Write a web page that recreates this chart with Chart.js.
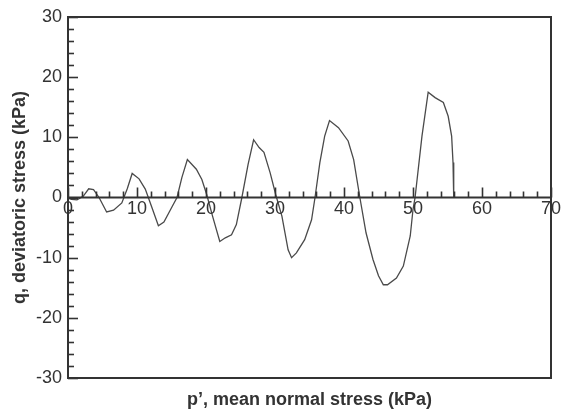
<!DOCTYPE html>
<html>
<head>
<meta charset="utf-8">
<script src="https://cdn.jsdelivr.net/npm/chart.js@4"></script>
<style>
  html, body { margin: 0; padding: 0; background: #fff; }
  #wrap { width: 565px; height: 414px; }
</style>
</head>
<body>
<div id="wrap"><canvas id="c" width="565" height="414"></canvas></div>
<script>
// p' (kPa)
const pValues = [0, 0.5, 1.3, 2.2, 3.0, 3.7, 4.5, 5.6, 6.6, 7.8, 8.6, 9.3, 10.3, 11.2, 12.2, 13.1, 13.9, 15.1, 15.8, 16.5, 17.3, 18.6, 19.4, 20.1, 21.0, 22.0, 22.8, 23.7, 24.4, 25.2, 26.1, 26.9, 27.7, 28.4, 29.3, 30.1, 31.0, 31.9, 32.4, 33.1, 34.3, 35.3, 35.8, 36.5, 37.2, 37.9, 39.2, 40.6, 41.4, 42.3, 43.2, 44.2, 45.0, 45.7, 46.3, 47.6, 48.6, 49.6, 50.0, 50.3, 51.3, 52.2, 53.2, 54.4, 55.1, 55.6, 55.8, 55.9];
// q (kPa)
const qValues = [0, -0.3, -0.4, 0.2, 1.45, 1.3, 0, -2.4, -2.1, -0.9, 1.5, 4.0, 3.1, 1.4, -1.8, -4.7, -4.1, -1.5, 0, 3.3, 6.3, 4.7, 3.0, 0.5, -3.3, -7.3, -6.7, -6.2, -4.5, 0, 5.5, 9.6, 8.3, 7.5, 4.1, 0.5, -3.1, -8.7, -10.0, -9.2, -7.0, -3.7, 0, 5.8, 10.2, 12.8, 11.6, 9.4, 6.3, 0, -5.9, -10.3, -13.0, -14.5, -14.5, -13.4, -11.4, -6.4, -2.0, 0, 10.2, 17.5, 16.6, 15.8, 13.5, 10.2, 5.8, 0];
// tick labels
const xTickLabels = [0, 10, 20, 30, 40, 50, 60, 70];
const yTickLabels = [-30, -20, -10, 0, 10, 20, 30];
const minorStep = 2;
const xTitle = "p\u2019, mean normal stress (kPa)";
const yTitle = "q, deviatoric stress (kPa)";

const points = pValues.map((p, i) => ({ x: p, y: qValues[i] }));
const AXIS_COLOR = '#333';
const TEXT_COLOR = '#333';
const FONT = '"Liberation Sans", Arial, sans-serif';

const framePlugin = {
  id: 'frame',
  afterDraw(chart) {
    const ctx = chart.ctx;
    const xs = chart.scales.x, ys = chart.scales.y;
    const a = chart.chartArea;
    const y0 = ys.getPixelForValue(0);
    ctx.save();
    ctx.strokeStyle = AXIS_COLOR;
    ctx.lineWidth = 2;
    ctx.strokeRect(a.left, a.top, a.right - a.left, a.bottom - a.top);
    // zero line
    ctx.beginPath();
    ctx.moveTo(a.left, y0);
    ctx.lineTo(a.right, y0);
    ctx.stroke();
    // x ticks (upward from zero line)
    ctx.lineWidth = 1.6;
    const xmin = xTickLabels[0], xmax = xTickLabels[xTickLabels.length - 1];
    for (let v = xmin; v <= xmax + 1e-9; v += minorStep) {
      const px = Math.round(xs.getPixelForValue(v)) + 0.5;
      const len = (v % 10 === 0) ? 10 : 6;
      ctx.beginPath();
      ctx.moveTo(px, y0);
      ctx.lineTo(px, y0 - len);
      ctx.stroke();
    }
    // y ticks (inward from left axis)
    const ymin = yTickLabels[0], ymax = yTickLabels[yTickLabels.length - 1];
    for (let v = ymin; v <= ymax + 1e-9; v += minorStep) {
      const py = Math.round(ys.getPixelForValue(v)) + 0.5;
      const len = (Math.abs(v) % 10 === 0) ? 10 : 6;
      ctx.beginPath();
      ctx.moveTo(a.left, py);
      ctx.lineTo(a.left + len, py);
      ctx.stroke();
    }
    // x tick labels under zero line
    ctx.fillStyle = TEXT_COLOR;
    ctx.font = '18px ' + FONT;
    ctx.textAlign = 'center';
    ctx.textBaseline = 'middle';
    xTickLabels.forEach(v => {
      ctx.fillText(String(v), xs.getPixelForValue(v), y0 + 12);
    });
    ctx.restore();
  }
};

new Chart(document.getElementById('c'), {
  type: 'scatter',
  data: {
    datasets: [{
      data: points,
      showLine: true,
      borderColor: '#4a4a4a',
      borderWidth: 1.3,
      pointRadius: 0,
      tension: 0,
      fill: false
    }]
  },
  options: {
    responsive: false,
    animation: false,
    devicePixelRatio: 1,
    layout: { padding: { top: 17, right: 14, left: 0, bottom: 0 } },
    plugins: { legend: { display: false }, tooltip: { enabled: false } },
    scales: {
      x: {
        type: 'linear',
        min: xTickLabels[0],
        max: xTickLabels[xTickLabels.length - 1],
        grid: { display: false },
        border: { display: false },
        ticks: { display: false },
        title: {
          display: true,
          text: xTitle,
          color: TEXT_COLOR,
          font: { family: FONT, size: 18, weight: 'bold' },
          padding: { top: 0, bottom: 3 }
        },
        afterFit(scale) { scale.height = 36; }
      },
      y: {
        type: 'linear',
        min: yTickLabels[0],
        max: yTickLabels[yTickLabels.length - 1],
        grid: { display: false, drawTicks: false },
        border: { display: false },
        ticks: {
          stepSize: 10,
          padding: 6,
          color: TEXT_COLOR,
          font: { family: FONT, size: 18 }
        },
        title: {
          display: true,
          text: yTitle,
          color: TEXT_COLOR,
          font: { family: FONT, size: 18, weight: 'bold' },
          padding: { top: 9, bottom: 0 }
        },
        afterFit(scale) { scale.width = 68; }
      }
    }
  },
  plugins: [framePlugin]
});
</script>
</body>
</html>
